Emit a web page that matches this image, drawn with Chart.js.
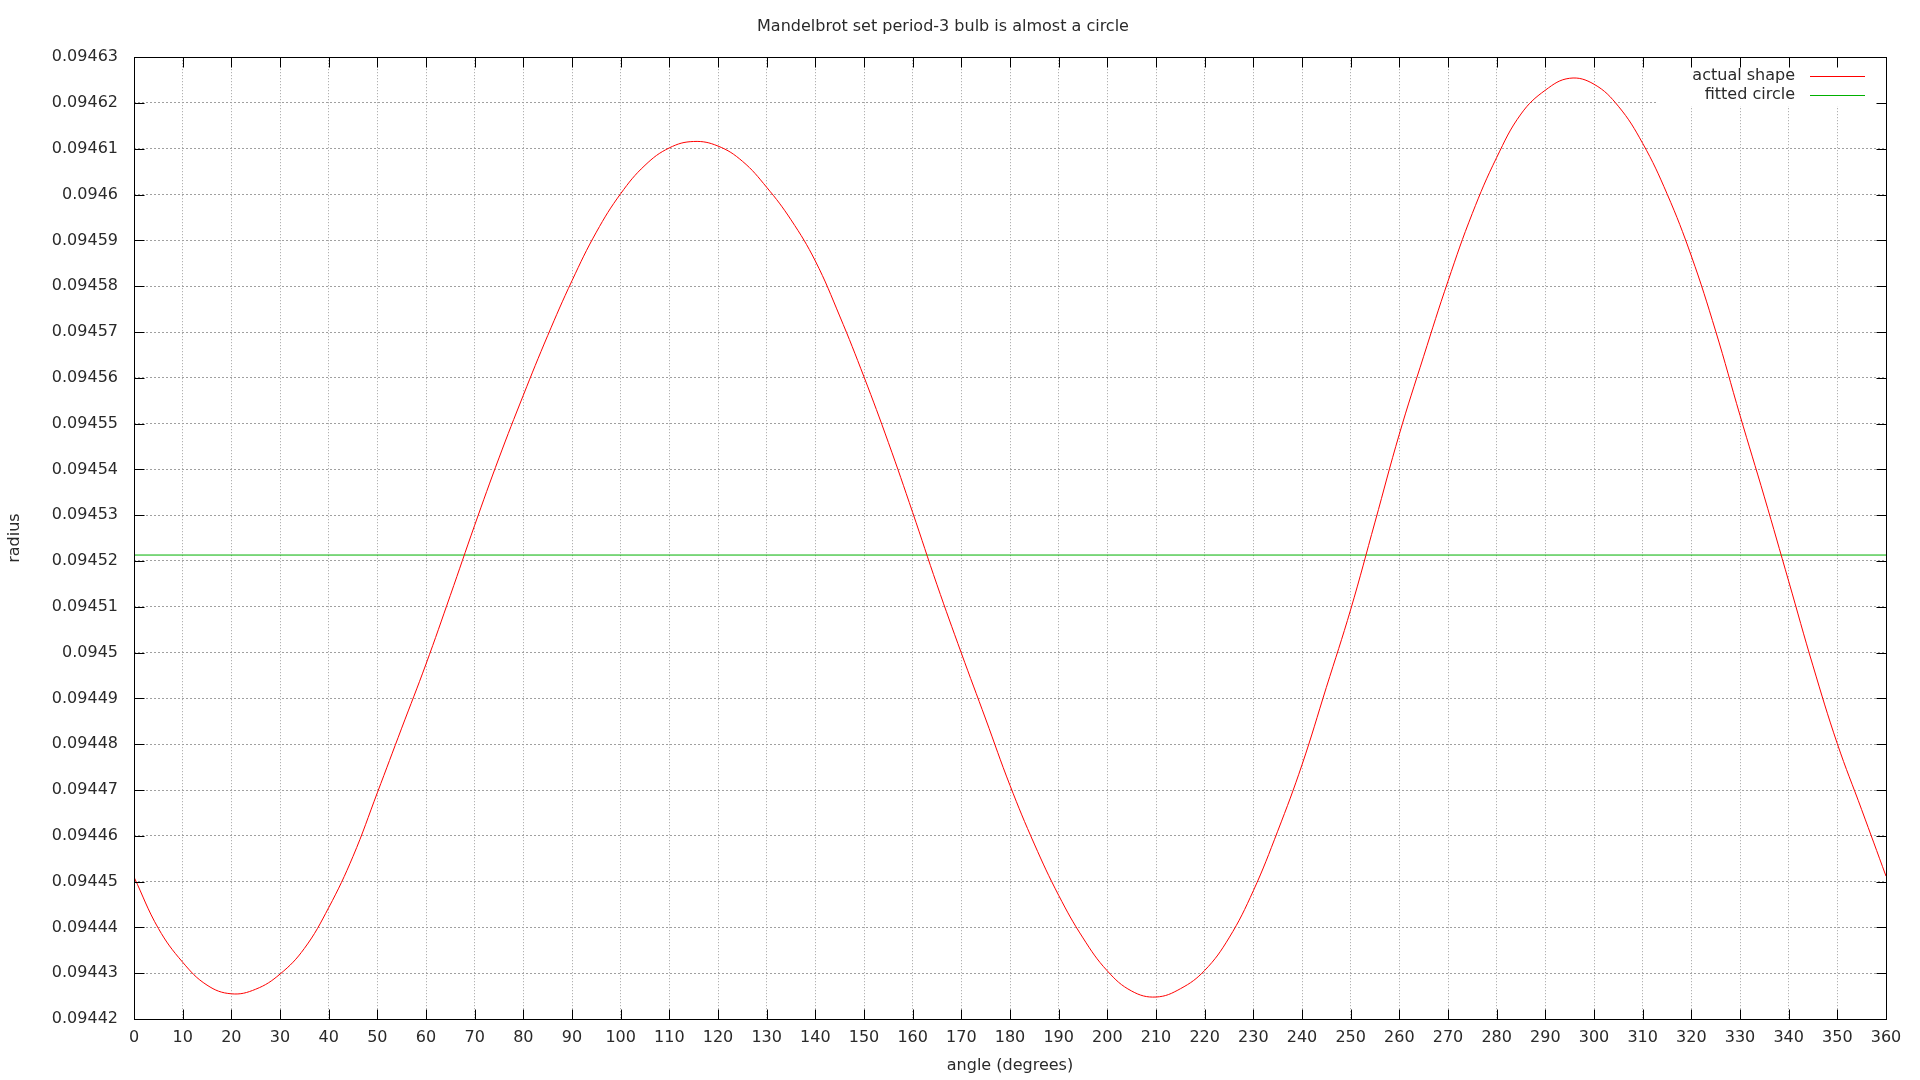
<!DOCTYPE html>
<html>
<head>
<meta charset="utf-8">
<title>Mandelbrot set period-3 bulb is almost a circle</title>
<script src="https://cdn.jsdelivr.net/npm/chart.js@4/dist/chart.umd.min.js"></script>
<style>
  html, body { margin: 0; padding: 0; background: #fff; }
  #wrap { width: 1920px; height: 1080px; }
</style>
</head>
<body>
<div id="wrap"><canvas id="chart" width="1920" height="1080"></canvas></div>
<script>
const angles = [
  0, 5, 10, 15, 20, 25, 30, 35, 40, 45, 50, 55, 60, 65, 70, 75, 80, 85, 90,
  95, 100, 105, 110, 115, 120, 125, 130, 135, 140, 145, 150, 155, 160, 165, 170, 175, 180,
  185, 190, 195, 200, 205, 210, 215, 220, 225, 230, 235, 240, 245, 250, 255, 260, 265, 270,
  275, 280, 285, 290, 295, 300, 305, 310, 315, 320, 325, 330, 335, 340, 345, 350, 355, 360
];
const actualShape = [
  0.0944510, 0.0944398, 0.0944324, 0.0944274, 0.0944255, 0.0944265, 0.0944298, 0.0944354, 0.0944443, 0.0944555,
  0.0944694, 0.0944835, 0.0944975, 0.0945125, 0.0945278, 0.0945425, 0.0945562, 0.0945692, 0.0945812,
  0.0945918, 0.0946002, 0.0946064, 0.0946102, 0.0946116, 0.0946106, 0.0946073, 0.0946016, 0.0945945,
  0.0945855, 0.0945735, 0.0945602, 0.0945459, 0.0945306, 0.0945148, 0.0944999, 0.0944855, 0.0944710,
  0.0944582, 0.0944470, 0.0944377, 0.0944305, 0.0944261, 0.0944248, 0.0944266, 0.0944306, 0.0944377,
  0.0944480, 0.0944610, 0.0944755, 0.0944924, 0.0945094, 0.0945285, 0.0945477, 0.0945647, 0.0945811,
  0.0945959, 0.0946081, 0.0946176, 0.0946228, 0.0946254, 0.0946241, 0.0946193, 0.0946112, 0.0946002,
  0.0945866, 0.0945702, 0.0945518, 0.0945340, 0.0945156, 0.0944971, 0.0944801, 0.0944657, 0.0944512
];
const circleAngles = [0, 360];
const circleRadius = [0.0945213, 0.0945213];

const FONT = { family: "'DejaVu Sans', sans-serif", size: 16 };
const TEXT = '#2a2a2a';

function pts(xs, ys) {
  return xs.map((x, i) => ({ x: x, y: ys[i] }));
}

// gnuplot-like frame: inward ticks on all four sides, border, key box
const gnuplotFrame = {
  id: 'gnuplotFrame',
  beforeDatasetsDraw(chart) {
    const ctx = chart.ctx, a = chart.chartArea;
    ctx.save();
    ctx.fillStyle = '#fff';
    ctx.fillRect(a.right - 229, a.top + 1, 228, 48);
    ctx.restore();
  },
  afterDraw(chart) {
    const ctx = chart.ctx, a = chart.chartArea;
    const L = Math.round(a.left) + 0.5, R = Math.round(a.right) + 0.5;
    const T = Math.round(a.top) + 0.5, B = Math.round(a.bottom) + 0.5;
    ctx.save();
    ctx.strokeStyle = '#000';
    ctx.lineWidth = 1;
    ctx.beginPath();
    chart.scales.x.ticks.forEach(t => {
      const px = Math.round(chart.scales.x.getPixelForValue(t.value)) + 0.5;
      ctx.moveTo(px, B); ctx.lineTo(px, B - 10);
      ctx.moveTo(px, T); ctx.lineTo(px, T + 10);
    });
    chart.scales.y.ticks.forEach(t => {
      const py = Math.round(chart.scales.y.getPixelForValue(t.value)) + 0.5;
      ctx.moveTo(L, py); ctx.lineTo(L + 10, py);
      ctx.moveTo(R, py); ctx.lineTo(R - 10, py);
    });
    ctx.stroke();
    ctx.strokeRect(L, T, R - L, B - T);

    // key
    ctx.font = FONT.size + 'px ' + FONT.family;
    ctx.textAlign = 'right';
    ctx.textBaseline = 'middle';
    chart.data.datasets.forEach((ds, i) => {
      const y = a.top + 19 + i * 18.7;
      ctx.fillStyle = TEXT;
      ctx.fillText(ds.label, a.right - 91, y);
      ctx.strokeStyle = ds.borderColor;
      ctx.beginPath();
      ctx.moveTo(a.right - 76, Math.round(y) + 0.5);
      ctx.lineTo(a.right - 21, Math.round(y) + 0.5);
      ctx.stroke();
    });
    ctx.restore();
  }
};

new Chart(document.getElementById('chart'), {
  type: 'line',
  data: {
    datasets: [
      { label: 'actual shape', data: pts(angles, actualShape), borderColor: '#ff0000', borderWidth: 1,
        pointRadius: 0, tension: 0.4, fill: false },
      { label: 'fitted circle', data: pts(circleAngles, circleRadius), borderColor: '#00b000', borderWidth: 1,
        pointRadius: 0, fill: false }
    ]
  },
  options: {
    responsive: false,
    animation: false,
    devicePixelRatio: 1,
    layout: { padding: { left: 0, right: 34, top: 0, bottom: 0 } },
    plugins: {
      legend: { display: false },
      tooltip: { enabled: false },
      title: {
        display: true,
        text: 'Mandelbrot set period-3 bulb is almost a circle',
        color: TEXT,
        font: { family: FONT.family, size: 16, weight: 'normal' },
        padding: { top: 17, bottom: 21 }
      }
    },
    scales: {
      x: {
        type: 'linear',
        min: 0, max: 360,
        afterFit(scale) { scale.height = 61; },
        border: { display: false, dash: [1, 2] },
        grid: { color: '#a0a0a0', drawTicks: false },
        ticks: { stepSize: 10, autoSkip: false, maxRotation: 0, padding: 9, color: TEXT, font: FONT },
        title: { display: true, text: 'angle (degrees)', color: TEXT, font: FONT, padding: { top: 0, bottom: 5 } }
      },
      y: {
        type: 'linear',
        min: 0.09442, max: 0.09463,
        afterFit(scale) { scale.width = 134; },
        border: { display: false, dash: [2, 2] },
        grid: { color: '#a0a0a0', drawTicks: false },
        ticks: {
          stepSize: 0.00001, autoSkip: false, padding: 16, color: TEXT, font: FONT,
          callback: v => String(Number(v.toFixed(5)))
        },
        title: { display: true, text: 'radius', color: TEXT, font: FONT, padding: { top: 5, bottom: 0 } }
      }
    }
  },
  plugins: [gnuplotFrame]
});
</script>
</body>
</html>
